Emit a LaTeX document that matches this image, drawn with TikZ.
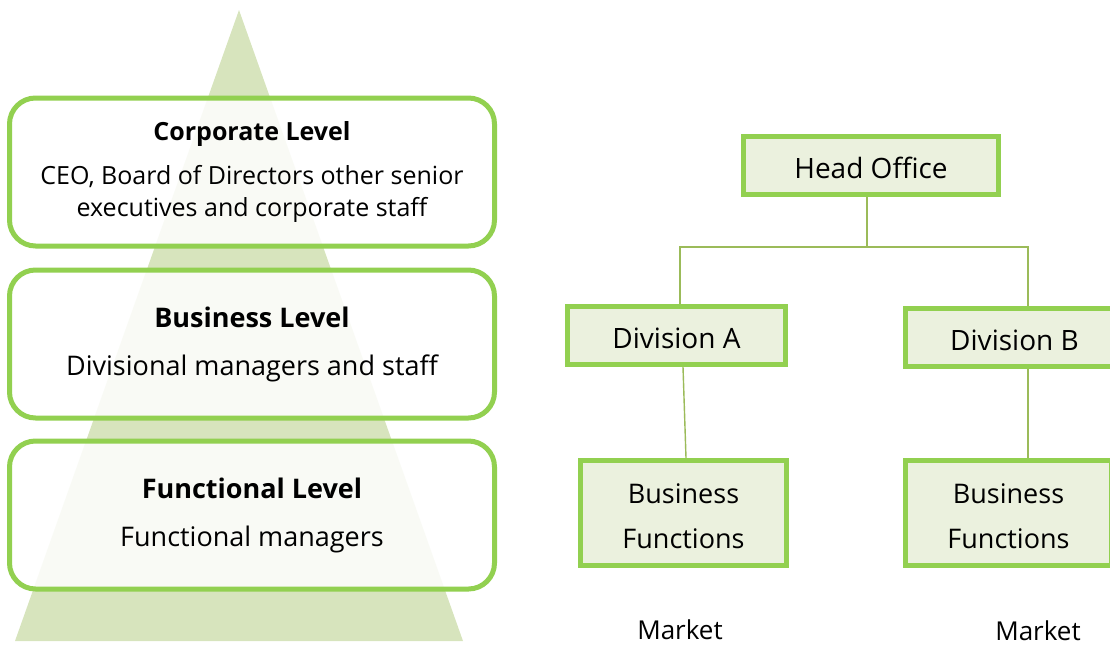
\documentclass[tikz,border=0pt]{standalone}
\usepackage{fontspec}
\setmainfont{Open Sans}
\usepackage{tikz}
\usetikzlibrary{positioning}

\definecolor{leafgreen}{HTML}{92D050}
\definecolor{palegreen}{HTML}{D7E4BD}
\definecolor{boxgreen}{HTML}{EBF1DE}
\definecolor{linegreen}{HTML}{9BBB59}

\begin{document}
\begin{tikzpicture}[x=1pt, y=-1pt,
        level/.style={draw=leafgreen, line width=5pt, rounded corners=26pt, fill=white, fill opacity=0.85, text opacity=1,
            minimum width=485pt, minimum height=148pt, align=center, font=\fontsize{27}{32}\selectfont},
        unit/.style={draw=leafgreen, line width=5pt, fill=boxgreen, align=center, font=\fontsize{28}{45}\selectfont},
        conn/.style={draw=linegreen, line width=1.4pt}]
        \useasboundingbox (0,0) rectangle (1110,646);

        % pyramid behind the levels
        \fill[palegreen] (239,10) -- (463,641) -- (15,641) -- cycle;

        \node[level, font=\fontsize{25}{32}\selectfont] (corporate) at (252,172) {\textbf{Corporate Level}\\[12pt]CEO, Board of Directors other senior\\executives and corporate staff};
        \node[level] (business) at (252,344) {\textbf{Business Level}\\[16pt]Divisional managers and staff};
        \node[level] (functional) at (252,515) {\textbf{Functional Level}\\[16pt]Functional managers};

        \node[unit, minimum width=255pt, minimum height=58pt, text height=27pt] (head) at (871,165.5) {Head Office};
        \node[unit, minimum width=218pt, minimum height=58pt, text height=27pt] (divA) at (676.5,335.5) {Division A};
        \node[unit, minimum width=218pt, minimum height=58pt, text height=27pt] (divB) at (1014.5,337.5) {Division B};
        \node[unit, minimum width=206pt, minimum height=105pt, font=\fontsize{27}{45}\selectfont, text height=71pt] (funcA) at (683.5,513) {Business\\Functions};
        \node[unit, minimum width=206pt, minimum height=105pt, font=\fontsize{27}{45}\selectfont, text height=71pt] (funcB) at (1008.5,513) {Business\\Functions};

        \node[font=\fontsize{26}{30}\selectfont, inner sep=0pt] (marketA) at (680,630) {Market};
        \node[font=\fontsize{26}{30}\selectfont, inner sep=0pt] (marketB) at (1038,631) {Market};

        \coordinate (hub) at (867,247);
        \draw[conn] ([xshift=-4pt]head.south) -- (hub);
        \draw[conn] ([xshift=3.5pt]divA.north) |- (hub) -| ([xshift=13.5pt]divB.north);
        \draw[conn] ([xshift=6.5pt]divA.south) -- ([xshift=2.5pt]funcA.north);
        \draw[conn] ([xshift=13.5pt]divB.south) -- ([xshift=19.5pt]funcB.north);
\end{tikzpicture}
\end{document}
